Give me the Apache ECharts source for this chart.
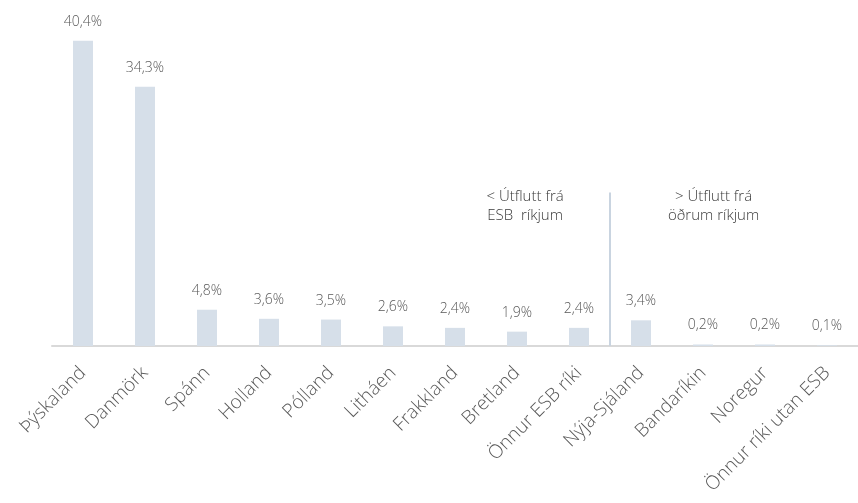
<!DOCTYPE html>
<html><head><meta charset="utf-8">
<script src="https://cdn.jsdelivr.net/npm/echarts@6/dist/echarts.min.js"></script>
<style>html,body{margin:0;padding:0;background:#fff}#c{width:858px;height:503px}</style>
</head><body><div id="c"></div>
<script>
const categories = ["Þýskaland","Danmörk","Spánn","Holland","Pólland","Litháen","Frakkland","Bretland","Önnur ESB ríki","Nýja-Sjáland","Bandaríkin","Noregur","Önnur ríki utan ESB"];
const values = [40.4,34.3,4.8,3.6,3.5,2.6,2.4,1.9,2.4,3.4,0.2,0.2,0.1];
const dividerPos = 8.5;
const dividerTop = 20.3;
const notes = [
  {x: 7.13, y: 18.5, text: "< Útflutt frá\nESB  ríkjum"},
  {x: 10.17, y: 18.5, text: "> Útflutt frá\nöðrum ríkjum"}
];
const font = "'Open Sans', sans-serif";
const chart = echarts.init(document.getElementById('c'));
chart.setOption({
  animation: false,
  grid: {left: 52, width: 815, top: 6, bottom: 157, containLabel: false},
  xAxis: [{
    type: 'category', data: categories,
    axisLine: {lineStyle: {color: '#d9d9d9', width: 2}},
    axisTick: {show: false},
    axisLabel: {rotate: 45, color: '#595959', fontSize: 19, fontWeight: 300, fontFamily: font, margin: 24, interval: 0}
  }, {
    type: 'value', min: -0.5, max: 12.5, show: false
  }],
  yAxis: {type: 'value', min: 0, max: 45, show: false, splitLine: {show: false}},
  series: [{
    type: 'bar', data: values, barWidth: 20,
    itemStyle: {color: '#d6dfe9'},
    label: {show: true, position: 'top', distance: 12, color: '#595959', fontSize: 14, fontWeight: 300, fontFamily: font,
      formatter: p => p.value.toFixed(1).replace('.', ',') + '%'}
  }, {
    type: 'scatter', xAxisIndex: 1, data: [], silent: true,
    markLine: {
      symbol: 'none', silent: true,
      lineStyle: {color: '#c9d4e0', width: 2, type: 'solid'},
      label: {show: false},
      data: [[{coord: [dividerPos, 0]}, {coord: [dividerPos, dividerTop]}]]
    },
    markPoint: {
      symbol: 'circle', symbolSize: 0, silent: true,
      label: {show: true, position: 'inside', color: '#3a3a3a', fontSize: 15, fontWeight: 300, fontFamily: font, lineHeight: 19, align: 'center'},
      data: notes.map(n => ({coord: [n.x, n.y], label: {formatter: n.text}}))
    }
  }]
});
</script></body></html>
